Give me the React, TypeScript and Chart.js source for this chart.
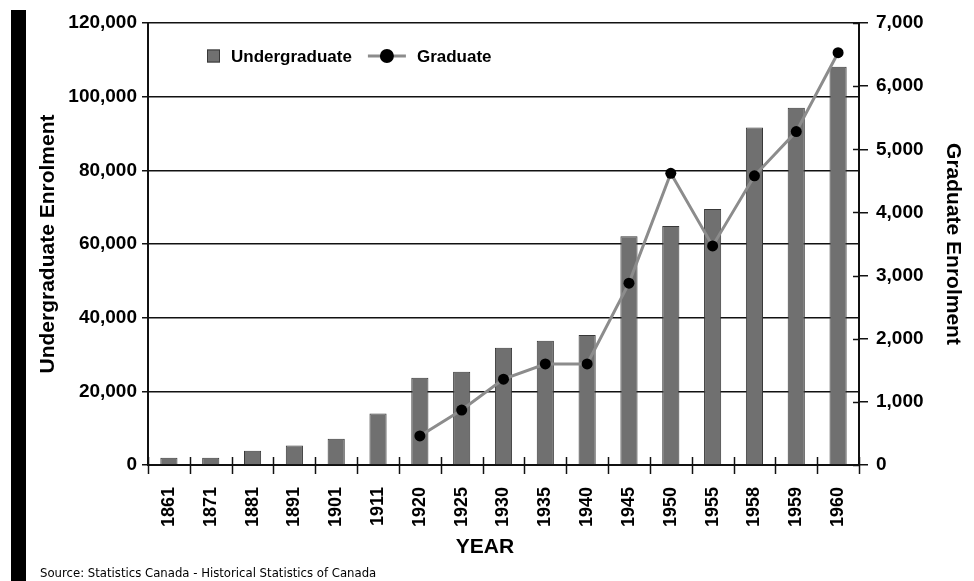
import React, { useEffect, useRef } from 'react';
import { Chart, registerables } from 'chart.js';

Chart.register(...registerables);

const years = ['1861', '1871', '1881', '1891', '1901', '1911', '1920', '1925', '1930', '1935', '1940', '1945', '1950', '1955', '1958', '1959', '1960'];
const undergraduate = [2000, 2000, 3900, 5300, 7100, 14000, 23700, 25300, 31800, 33700, 35300, 62100, 64900, 69500, 91600, 97000, 108100];
const graduate = [null, null, null, null, null, null, 460, 870, 1360, 1600, 1600, 2880, 4620, 3470, 4580, 5280, 6530];
const undergradLabel = 'Undergraduate';
const graduateLabel = 'Graduate';
const leftTitle = 'Undergraduate Enrolment';
const rightTitle = 'Graduate Enrolment';
const xTitle = 'YEAR';
const sourceText = 'Source: Statistics Canada - Historical Statistics of Canada';

const FONT = "'Liberation Sans', Arial, sans-serif";
const SRC_FONT = "'DejaVu Sans Condensed', 'Liberation Sans', sans-serif";
const BAR_FILL = '#707070';
const BAR_EDGE = '#383838';
const LINE_COL = '#8c8c8c';

const crossTicks = {
  id: 'crossTicks',
  afterDraw(chart: any) {
    const { ctx, chartArea, scales } = chart;
    ctx.save();
    ctx.strokeStyle = '#111';
    ctx.lineWidth = 1.5;
    const n = chart.data.labels.length;
    const w = (chartArea.right - chartArea.left) / n;
    for (let i = 0; i <= n; i++) {
      const x = Math.round(chartArea.left + i * w) + 0.5;
      ctx.beginPath();
      ctx.moveTo(x, chartArea.bottom - 8);
      ctx.lineTo(x, chartArea.bottom + 9);
      ctx.stroke();
    }
    const y2 = scales.y2;
    y2.ticks.forEach((t: any) => {
      const y = Math.round(y2.getPixelForValue(t.value)) + 0.5;
      ctx.beginPath();
      ctx.moveTo(chartArea.right - 6, y);
      ctx.lineTo(chartArea.right, y);
      ctx.stroke();
    });
    // x-axis title
    ctx.fillStyle = '#000';
    ctx.font = `bold 21px ${FONT}`;
    ctx.textAlign = 'center';
    ctx.textBaseline = 'middle';
    ctx.fillText(xTitle, 485, 547);
    ctx.restore();
  },
};

const legendPlugin = {
  id: 'insideLegend',
  afterDraw(chart: any) {
    const { ctx } = chart;
    const ds0 = chart.data.datasets[0];
    const ds1 = chart.data.datasets[1];
    const y = 56;
    let x = 207;
    ctx.save();
    ctx.font = `bold 17px ${FONT}`;
    ctx.textBaseline = 'middle';
    ctx.fillStyle = BAR_FILL;
    ctx.fillRect(x, y - 6.5, 13, 13);
    ctx.strokeStyle = BAR_EDGE;
    ctx.lineWidth = 1;
    ctx.strokeRect(x + 0.5, y - 6, 12, 12);
    x += 24;
    ctx.fillStyle = '#000';
    ctx.fillText(ds0.label, x, y + 1);
    x += ctx.measureText(ds0.label).width + 16;
    ctx.strokeStyle = LINE_COL;
    ctx.lineWidth = 3;
    ctx.beginPath();
    ctx.moveTo(x, y);
    ctx.lineTo(x + 38, y);
    ctx.stroke();
    ctx.fillStyle = '#000';
    ctx.beginPath();
    ctx.arc(x + 19, y, 7, 0, Math.PI * 2);
    ctx.fill();
    x += 49;
    ctx.fillText(ds1.label, x, y + 1);
    ctx.restore();
  },
};

export default function App() {
  const ref = useRef<HTMLCanvasElement | null>(null);

  useEffect(() => {
    if (!ref.current) return;
    const tickFont = { family: FONT, size: 19, weight: 'bold' as const };
    const titleFont = { family: FONT, size: 21, weight: 'bold' as const };
    const chart = new Chart(ref.current, {
      type: 'bar',
      data: {
        labels: years,
        datasets: [
          {
            type: 'bar',
            label: undergradLabel,
            data: undergraduate,
            backgroundColor: BAR_FILL,
            borderColor: BAR_EDGE,
            borderWidth: 1,
            barPercentage: 0.41,
            categoryPercentage: 1,
            yAxisID: 'y',
            order: 1,
          },
          {
            type: 'line',
            label: graduateLabel,
            data: graduate as any,
            borderColor: LINE_COL,
            borderWidth: 3,
            pointBackgroundColor: '#000',
            pointBorderColor: '#000',
            pointRadius: 5.5,
            pointBorderWidth: 0,
            tension: 0,
            yAxisID: 'y2',
            order: 0,
          } as any,
        ],
      },
      options: {
        responsive: false,
        animation: false,
        events: [],
        layout: { padding: { left: 0, right: 0, top: 23, bottom: 0 } },
        plugins: {
          legend: { display: false },
          tooltip: { enabled: false },
        },
        scales: {
          x: {
            grid: { display: false, drawTicks: false },
            border: { display: true, color: '#111', width: 2 },
            ticks: {
              minRotation: 90,
              maxRotation: 90,
              padding: 22,
              color: '#000',
              font: { family: FONT, size: 18, weight: 'bold' },
              autoSkip: false,
            },
            afterFit: (s: any) => {
              s.height = 116;
            },
          },
          y: {
            position: 'left',
            min: 0,
            max: 120000,
            ticks: {
              stepSize: 20000,
              padding: 5,
              color: '#000',
              font: tickFont,
              callback: (v: any) => Number(v).toLocaleString('en-US'),
            },
            grid: { color: '#111', lineWidth: 1.5, tickLength: 6 },
            border: { display: true, color: '#111', width: 2 },
            title: {
              display: true,
              text: leftTitle,
              color: '#000',
              font: titleFont,
              padding: { top: 36, bottom: 0 },
            },
            afterFit: (s: any) => {
              s.width = 148;
            },
          },
          y2: {
            position: 'right',
            min: 0,
            max: 7000,
            ticks: {
              stepSize: 1000,
              padding: 8,
              color: '#000',
              font: tickFont,
              callback: (v: any) => Number(v).toLocaleString('en-US'),
            },
            grid: {
              display: true,
              drawOnChartArea: false,
              drawTicks: true,
              tickLength: 9,
              color: '#111',
              lineWidth: 1.5,
            },
            border: { display: true, color: '#111', width: 2 },
            title: {
              display: true,
              text: rightTitle,
              color: '#000',
              font: titleFont,
              padding: { top: 9, bottom: 0 },
            },
            afterFit: (s: any) => {
              s.width = 115;
            },
          },
        },
      },
      plugins: [crossTicks, legendPlugin],
    });
    return () => chart.destroy();
  }, []);

  return (
    <div style={{ position: 'absolute', left: 0, top: 0, width: 974, height: 581, background: '#fff', overflow: 'hidden' }}>
      <canvas ref={ref} width={974} height={581} style={{ position: 'absolute', left: 0, top: 0 }} />
      <div style={{ position: 'absolute', left: 11, top: 10, width: 15, height: 571, background: '#000' }} />
      <div
        style={{
          position: 'absolute',
          left: 40,
          top: 565,
          fontFamily: SRC_FONT,
          fontSize: 13,
          lineHeight: '16px',
          color: '#000',
          whiteSpace: 'nowrap',
        }}
      >
        {sourceText}
      </div>
    </div>
  );
}
